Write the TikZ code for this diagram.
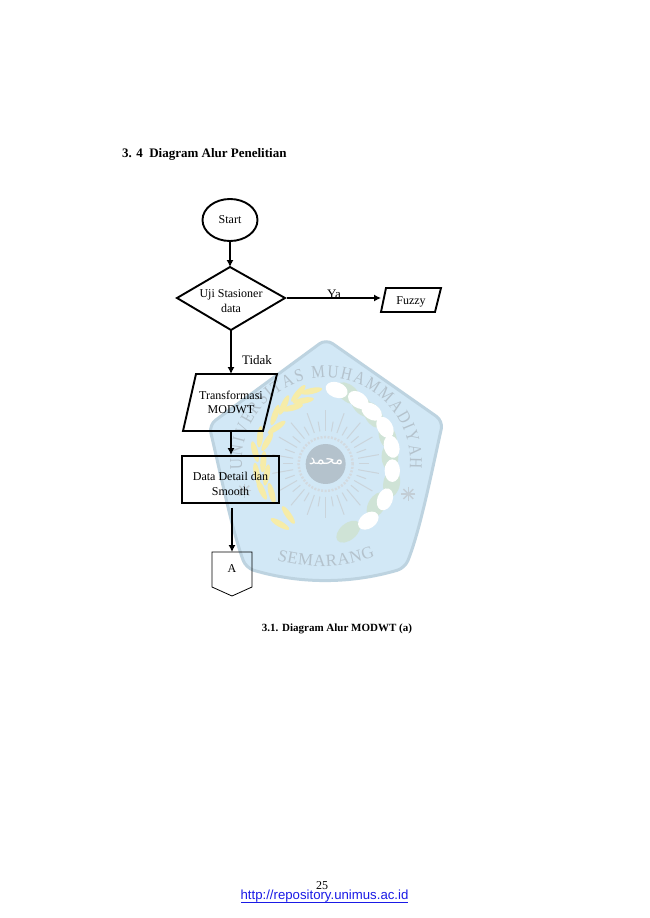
\documentclass[tikz,border=0pt]{standalone}
\usepackage{fontspec}
\setmainfont{Liberation Serif}
\setsansfont{Liberation Sans}
\newfontfamily\arabicfont[Script=Arabic]{DejaVu Sans}
\newfontfamily\wmfont[FakeStretch=0.85]{Liberation Serif}
\TeXXeTstate=1
\usetikzlibrary{arrows.meta,decorations.text,shapes.geometric}
\definecolor{wmfill}{HTML}{D2E8F6}
\definecolor{wmedge}{HTML}{BDD3E0}
\definecolor{wmgray}{HTML}{B4C2CC}
\definecolor{wmyellow}{HTML}{F6ECA8}
\definecolor{wmgreen}{HTML}{CFE3D6}
\definecolor{linkblue}{HTML}{1A1AE6}
\tikzset{
  flowline/.style={line width=1.2pt,-{Latex[length=7pt,width=7pt]}},
  thickbox/.style={draw,line width=1.9pt},
  flowtext/.style={font=\fontsize{12}{14.5}\selectfont,align=center,inner sep=0pt},
  wmtext/.style={decorate,decoration={text along path,text align=fit to path,
     text={|\wmfont\fontsize{18}{18}\selectfont\color{wmgray}|UNIVERSITAS MUHAMMADIYAH}}},
}
\begin{document}
\begin{tikzpicture}[x=1pt,y=-1pt]
\useasboundingbox (0,0) rectangle (650,918);
\fill[white] (0,0) rectangle (650,918);
% watermark
\draw[wmedge,line width=3pt,fill=wmfill,rounded corners=8pt,line join=round]
  (326,339) -- (443,421) .. controls (430,480) and (420,530) .. (405,568)
  .. controls (350,584) and (300,584) .. (246,568)
  .. controls (232,530) and (222,480) .. (209,425) -- cycle;
\path[wmtext] (242.3,469) arc[start angle=185,end angle=-5,radius=84pt];
\path[decorate,decoration={text along path,text align=fit to path,
   text={|\fontsize{17}{17}\selectfont\color{wmgray}|SEMARANG}}]
   (277,560) .. controls (305,569) and (345,569) .. (375,556);
\begin{scope}[shift={(160,340)},x=0.3333pt,y=-0.3333pt]
  \foreach \a in {0,10,...,350}
    \draw[wmgray!70,line width=1pt] (497,372) ++(\a:33pt) -- ++(\a:{10pt+mod(\a,20)*1.1pt});
  \draw[wmgray!60,line width=2.5pt,dash pattern=on 2pt off 1.5pt] (497,372) circle[radius=27pt];
  \fill[wmgray] (497,372) circle[radius=20pt];
  \foreach \x/\y/\a in {455/153/12,415/160/50,430/182/10,398/203/15,372/195/65,345/225/70,
     350/262/35,300/290/85,322/305/60,285/335/105,310/365/85,290/400/100,320/405/80,
     335/460/105,305/450/115,385/525/125,360/552/150}
    \fill[wmyellow,rotate around={\a:(\x,\y)}] (\x,\y) ellipse[x radius=32,y radius=9];
  \foreach \x/\y/\a in {565/160/-40,605/195/-50,640/225/-60,683/290/-70,690/350/-90,695/430/-100,650/495/-120,565/575/-140}
    \fill[wmgreen,rotate around={\a:(\x,\y)}] (\x,\y) ellipse[x radius=42,y radius=25];
  \foreach \x/\y/\a in {530/150/-20,595/180/-35,635/215/-35,675/262/-60,695/320/-75,697/392/-90,675/478/-110,625/542/-145}
    \fill[white,rotate around={\a:(\x,\y)}] (\x,\y) ellipse[x radius=34,y radius=23];
  \foreach \cx/\cy in {253/452,745/462}
    \foreach \a in {0,45,135,90}
      \draw[wmgray!80,line width=1.4pt] (\cx,\cy) ++(\a:7pt) -- ++(\a+180:14pt);
\end{scope}
\node[text=white,font=\arabicfont\fontsize{15}{15}\selectfont,inner sep=0pt] (wmname) at (326,462) {\beginR محمد\endR};
% page text
\node[anchor=west,inner sep=0pt,font=\bfseries\fontsize{13}{15}\selectfont] (title) at (122,154.5) {3. 4\ \ Diagram Alur Penelitian};
\node[inner sep=0pt,font=\bfseries\fontsize{11}{13}\selectfont] (caption) at (337,628.5) {3.1. Diagram Alur MODWT (a)};
\node[inner sep=0pt,font=\fontsize{12}{14}\selectfont] (pagenum) at (322,886) {25};
\node[inner sep=0pt,font=\sffamily\fontsize{13.2}{15}\selectfont,text=linkblue] (url) at (324.5,896) {http://repository.unimus.ac.id};
\draw[linkblue,line width=0.7pt] (241,902) -- (408,902);
% flow nodes
\node[thickbox,ellipse,minimum width=55pt,minimum height=42pt,inner sep=0pt,font=\fontsize{12}{14}\selectfont] (start) at (230,220) {Start};
\coordinate (dT) at (230,267); \coordinate (dR) at (285,298);
\coordinate (dB) at (231,330); \coordinate (dL) at (177,298);
\draw[line width=1.9pt,line join=miter] (dT) -- (dR) -- (dB) -- (dL) -- cycle;
\node[flowtext] (uji) at (231,301) {Uji Stasioner\\data};
\coordinate (fuzzyW) at (381,298);
\draw[line width=1.9pt] (386,288) -- (441,288) -- (435,312) -- (381,312) -- cycle;
\node[flowtext] (fuzzy) at (411,302) {Fuzzy};
\coordinate (trT) at (231,374); \coordinate (trB) at (231,431);
\draw[line width=1.9pt] (196,374) -- (277,374) -- (263,431) -- (183,431) -- cycle;
\node[flowtext] (trans) at (231,402.5) {Transformasi\\MODWT};
\node[flowtext] (detailtext) at (230.5,484) {Data Detail dan\\Smooth};
\node[thickbox,minimum width=97pt,minimum height=47pt,inner sep=0pt] (detail) at (230.5,479.5) {};
\coordinate (aT) at (232,552);
\draw[line width=0.8pt] (212,552) -- (252,552) -- (252,587) -- (232,596) -- (212,587) -- cycle;
\node[flowtext] (a) at (232,568.5) {A};
% connectors
\draw[flowline] (start.south) -- (dT);
\draw[flowline] (dR) ++(2,0) -- (fuzzyW);
\draw[flowline] (dB) -- (trT);
\draw[flowline] (trB) -- (detail.north -| trB);
\draw[flowline] ([yshift=-4pt]detail.south -| aT) -- (aT);
% labels
\node[flowtext,font=\fontsize{13}{15}\selectfont] (ya) at (334,294) {Ya};
\node[flowtext,font=\fontsize{13}{15}\selectfont] (tidak) at (257,360) {Tidak};
\end{tikzpicture}
\end{document}
